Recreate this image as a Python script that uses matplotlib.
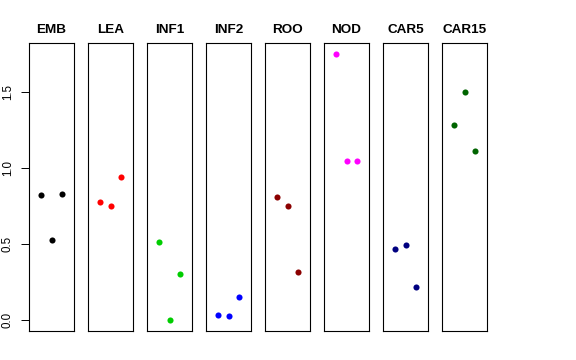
import matplotlib
matplotlib.use("Agg")
import matplotlib.pyplot as plt

plt.rcParams['font.family'] = ['Liberation Sans', 'DejaVu Sans']

groups = ["EMB", "LEA", "INF1", "INF2", "ROO", "NOD", "CAR5", "CAR15"]
colors = ["#000000", "#FF0000", "#00CD00", "#0000FF", "#8B0000", "#FF00FF", "#000080", "#006400"]
values = {
    "EMB":   [0.824, 0.526, 0.829],
    "LEA":   [0.776, 0.750, 0.941],
    "INF1":  [0.515, 0.000, 0.303],
    "INF2":  [0.033, 0.026, 0.155],
    "ROO":   [0.813, 0.752, 0.316],
    "NOD":   [1.754, 1.048, 1.046],
    "CAR5":  [0.467, 0.497, 0.219],
    "CAR15": [1.283, 1.502, 1.114],
}
reps = [1, 2, 3]
yticks = [0.0, 0.5, 1.0, 1.5]
ytick_labels = ["0.0", "0.5", "1.0", "1.5"]

W, H = 576, 360
fig = plt.figure(figsize=(W / 100, H / 100), dpi=100)

left0 = 29
pw = 45
step = 59
top = 43
bottom = 331

ymax = max(max(v) for v in values.values())
ymin = min(min(v) for v in values.values())
yr = ymax - ymin
ylim = (ymin - 0.04 * yr, ymax + 0.04 * yr)

for i, (g, c) in enumerate(zip(groups, colors)):
    x0 = left0 + i * step
    ax = fig.add_axes([x0 / W, (H - bottom) / H, pw / W, (bottom - top) / H])
    ax.plot(reps, values[g], 'o', color=c, markersize=4.4, markeredgewidth=0)
    ax.set_xlim(-0.16, 4.16)
    ax.set_ylim(*ylim)
    ax.set_xticks([])
    ax.set_title(g, fontsize=9.7, fontweight='bold', pad=7)
    for s in ax.spines.values():
        s.set_linewidth(0.8)
        s.set_color('black')
    if i == 0:
        ax.set_yticks(yticks)
        ax.set_yticklabels(ytick_labels, rotation=90, va='center')
        ax.tick_params(axis='y', length=5.8, width=0.7, labelsize=8.3, pad=5.2)
    else:
        ax.set_yticks([])

fig.savefig("out.png", dpi=100)
